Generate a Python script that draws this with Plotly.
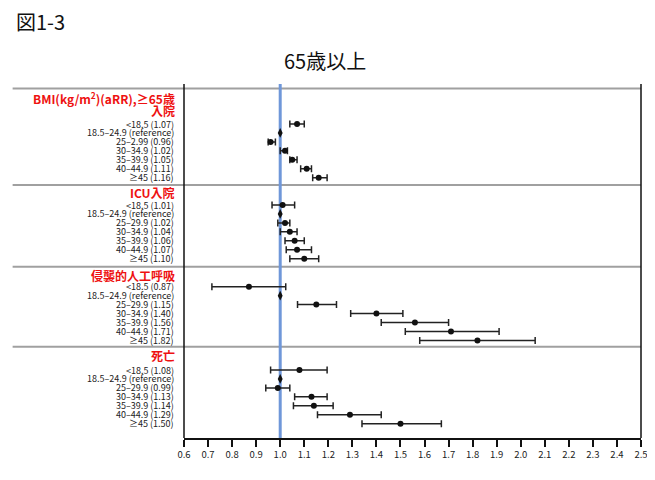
import plotly.graph_objects as go

# ---------------- data ----------------
x_ticks = [0.6, 0.7, 0.8, 0.9, 1.0, 1.1, 1.2, 1.3, 1.4, 1.5, 1.6, 1.7, 1.8, 1.9, 2.0, 2.1, 2.2, 2.3, 2.4, 2.5]
x_ticklabels = ["0.6", "0.7", "0.8", "0.9", "1.0", "1.1", "1.2", "1.3", "1.4", "1.5", "1.6",
                "1.7", "1.8", "1.9", "2.0", "2.1", "2.2", "2.3", "2.4", "2.5"]

group_headers = [["BMI(kg/m<sup>2</sup>)(aRR),≥65歳", "入院"], ["ICU入院"], ["侵襲的人工呼吸"], ["死亡"]]

labels_hosp = ["<18.5 (1.07)", "18.5–24.9 (reference)", "25–2.99 (0.96)", "30–34.9 (1.02)",
               "35–39.9 (1.05)", "40–44.9 (1.11)", "≥45 (1.16)"]
labels_icu = ["<18.5 (1.01)", "18.5–24.9 (reference)", "25–29.9 (1.02)", "30–34.9 (1.04)",
              "35–39.9 (1.06)", "40–44.9 (1.07)", "≥45 (1.10)"]
labels_vent = ["<18.5 (0.87)", "18.5–24.9 (reference)", "25–29.9 (1.15)", "30–34.9 (1.40)",
               "35–39.9 (1.56)", "40–44.9 (1.71)", "≥45 (1.82)"]
labels_death = ["<18.5 (1.08)", "18.5–24.9 (reference)", "25–29.9 (0.99)", "30–34.9 (1.13)",
                "35–39.9 (1.14)", "40–44.9 (1.29)", "≥45 (1.50)"]

hosp = [1.07, 1.00, 0.96, 1.02, 1.05, 1.11, 1.16]
hosp_lo = [1.04, 1.00, 0.95, 1.00, 1.04, 1.085, 1.135]
hosp_hi = [1.10, 1.00, 0.98, 1.03, 1.07, 1.13, 1.195]

icu = [1.01, 1.00, 1.02, 1.04, 1.06, 1.07, 1.10]
icu_lo = [0.966, 1.00, 0.99, 1.00, 1.02, 1.025, 1.04]
icu_hi = [1.06, 1.00, 1.04, 1.07, 1.10, 1.13, 1.16]

vent = [0.87, 1.00, 1.15, 1.40, 1.56, 1.71, 1.82]
vent_lo = [0.716, 1.00, 1.072, 1.293, 1.42, 1.52, 1.58]
vent_hi = [1.023, 1.00, 1.234, 1.51, 1.70, 1.91, 2.06]

death = [1.08, 1.00, 0.99, 1.13, 1.14, 1.29, 1.50]
death_lo = [0.96, 1.00, 0.94, 1.06, 1.055, 1.155, 1.34]
death_hi = [1.195, 1.00, 1.04, 1.195, 1.22, 1.42, 1.67]

# ---------------- layout constants (screen pixels) ----------------
WIN_W, WIN_H = 655, 480
OFF = 8  # default page body margin
L, R, T, B = 184, 648, 86, 438          # plot area on screen
sec_top = [88.5, 185.0, 266.7, 346.7]
sec_first_row = [124.0, 205.0, 286.7, 370.0]
header_y = [[98.3, 110.5], [192.7], [275.0], [355.7]]
row_step = 8.95

groups = [
    (labels_hosp, hosp, hosp_lo, hosp_hi),
    (labels_icu, icu, icu_lo, icu_hi),
    (labels_vent, vent, vent_lo, vent_hi),
    (labels_death, death, death_lo, death_hi),
]

LABEL_FONT = "Liberation Sans Narrow, Noto Sans CJK JP, sans-serif"
CJK_FONT = "Noto Sans CJK JP, sans-serif"

def px_to_paper_x(px):
    return (px - L) / (R - L)

def px_to_paper_y(py):
    return (B - py) / (B - T)

fig = go.Figure()
annotations = []
shapes = []

for gi, (labs, vals, lo, hi) in enumerate(groups):
    ys = [sec_first_row[gi] + i * row_step for i in range(len(vals))]
    nonref_x = [v for i, v in enumerate(vals) if i != 1]
    nonref_y = [y for i, y in enumerate(ys) if i != 1]
    plus = [h - v for i, (v, h) in enumerate(zip(vals, hi)) if i != 1]
    minus = [v - l for i, (v, l) in enumerate(zip(vals, lo)) if i != 1]
    fig.add_trace(go.Scatter(
        x=nonref_x, y=nonref_y, mode="markers",
        marker=dict(color="#111111", size=6, symbol="circle"),
        error_x=dict(type="data", symmetric=False, array=plus, arrayminus=minus,
                     color="#222222", thickness=1.5, width=3.5),
        showlegend=False, hoverinfo="skip", cliponaxis=False,
    ))
    fig.add_trace(go.Scatter(
        x=[vals[1]], y=[ys[1]], mode="markers",
        marker=dict(color="#111111", size=7, symbol="diamond-tall"),
        showlegend=False, hoverinfo="skip", cliponaxis=False,
    ))
    for lab, y in zip(labs, ys):
        annotations.append(dict(
            x=px_to_paper_x(175), xref="paper", y=y, yref="y",
            text=lab, showarrow=False, xanchor="right", yanchor="middle", borderpad=0,
            font=dict(family=LABEL_FONT, size=9, color="#222222"),
        ))
    for htxt, hy in zip(group_headers[gi], header_y[gi]):
        annotations.append(dict(
            x=px_to_paper_x(176), xref="paper", y=hy, yref="y",
            text="<b>" + htxt + "</b>", showarrow=False, xanchor="right", yanchor="middle",
            borderpad=0, font=dict(family=CJK_FONT, size=12, color="#ee1111"),
        ))
    shapes.append(dict(type="line", xref="paper", yref="y",
                       x0=px_to_paper_x(10), x1=1.0, y0=sec_top[gi], y1=sec_top[gi],
                       line=dict(color="#a0a0a0", width=2), layer="below"))

shapes.append(dict(type="line", xref="x", yref="paper", x0=1.0, x1=1.0,
                   y0=0, y1=px_to_paper_y(84), line=dict(color="#6f97d9", width=3), layer="below"))
shapes.append(dict(type="line", xref="paper", yref="paper", x0=0, x1=0, y0=0,
                   y1=px_to_paper_y(84), line=dict(color="#111111", width=1.5)))
shapes.append(dict(type="line", xref="paper", yref="paper", x0=1, x1=1, y0=0,
                   y1=px_to_paper_y(84), line=dict(color="#111111", width=1.5)))

annotations.append(dict(x=px_to_paper_x(11), xref="paper", y=px_to_paper_y(21), yref="paper",
                        text="図1-3", showarrow=False, xanchor="left", yanchor="middle",
                        font=dict(family=CJK_FONT, size=20, color="#111111")))
annotations.append(dict(x=px_to_paper_x(327), xref="paper", y=px_to_paper_y(61), yref="paper",
                        text="65歳以上", showarrow=False, xanchor="center", yanchor="middle",
                        font=dict(family=CJK_FONT, size=20, color="#111111")))

fig_w = WIN_W - OFF
fig_h = WIN_H - 2 * OFF
fig.update_layout(
    width=fig_w, height=fig_h,
    margin=dict(l=L - OFF, r=fig_w - (R - OFF), t=T - OFF, b=fig_h - (B - OFF), pad=0),
    plot_bgcolor="white", paper_bgcolor="white",
    annotations=annotations, shapes=shapes,
    xaxis=dict(range=[0.6, 2.5], tickvals=x_ticks, ticktext=x_ticklabels,
               showgrid=False, zeroline=False, showline=True, linecolor="#111111", linewidth=1.5,
               ticks="outside", ticklen=7, tickwidth=1.5, tickcolor="#111111",
               tickfont=dict(family=LABEL_FONT, size=9.5, color="#222222")),
    yaxis=dict(range=[B, T], showgrid=False, zeroline=False, showticklabels=False,
               showline=False, ticks=""),
)

fig.write_html("out.html")
